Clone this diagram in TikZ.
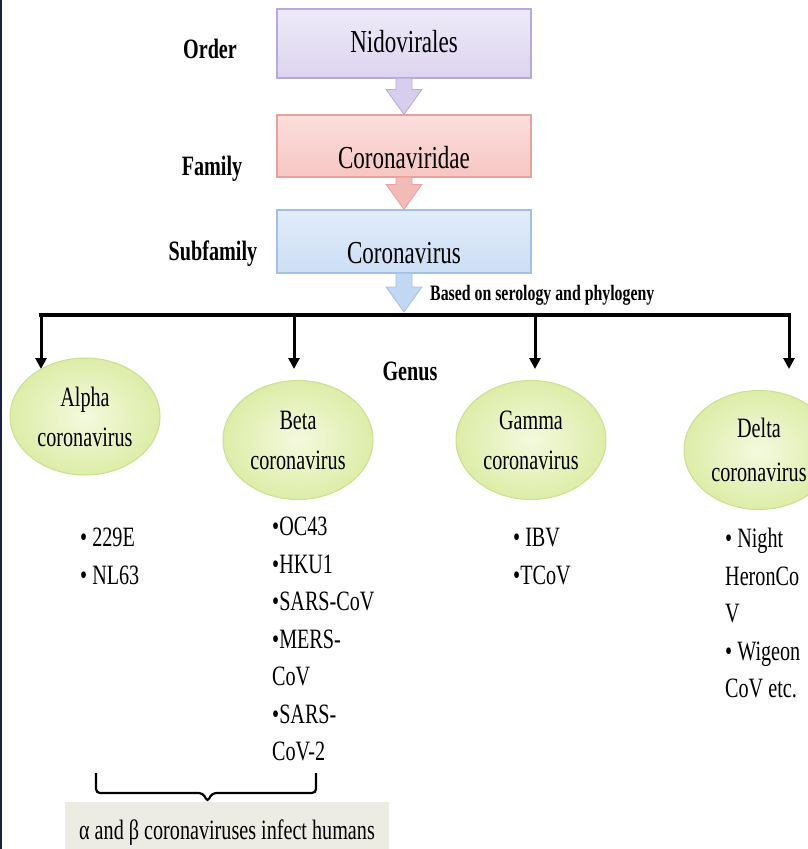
\documentclass[tikz,border=0pt]{standalone}
\usepackage{fontspec}
\setmainfont{Liberation Serif}[FakeStretch=0.72]
\usetikzlibrary{arrows.meta,calc,positioning,shapes.geometric}
\usepackage{xcolor}
\definecolor{nidotop}{HTML}{EEEAF8}
\definecolor{nidofill}{HTML}{DCD4EF}
\definecolor{nidoline}{HTML}{B7A9DA}
\definecolor{famtop}{HTML}{FBDEDC}
\definecolor{famfill}{HTML}{F6C6C2}
\definecolor{famline}{HTML}{E8A19C}
\definecolor{subtop}{HTML}{E2ECFA}
\definecolor{subfill}{HTML}{CCDEF5}
\definecolor{subline}{HTML}{A3C0E6}
\definecolor{genusin}{HTML}{F4F9DE}
\definecolor{genusfill}{HTML}{DDEDA8}
\definecolor{genusline}{HTML}{C9E08E}
\definecolor{notegrey}{HTML}{ECECE2}
\definecolor{edgenavy}{HTML}{1A1F4A}

% fat block arrow from one node to another
\newcommand{\fatarrow}[3]{%
  \filldraw[#3] let \p1=(#1), \p2=(#2) in
    (\x1-8pt,\y1) -- (\x1-8pt,\y2+25pt) -- (\x1-18pt,\y2+25pt) -- (\x1,\y2)
    -- (\x1+18pt,\y2+25pt) -- (\x1+8pt,\y2+25pt) -- (\x1+8pt,\y1);}

\tikzset{
  rankbox/.style={rectangle, line width=1.2pt, minimum width=254pt, inner ysep=0pt,
    text depth=0pt, font=\fontsize{32}{38}\selectfont},
  ranklabel/.style={anchor=base, inner sep=0pt, font=\fontsize{28}{34}\selectfont\bfseries},
  genus/.style={ellipse, draw=genusline, line width=1pt, inner color=genusin,
    outer color=genusfill, minimum width=150pt, minimum height=119pt, inner sep=0pt,
    align=center, font=\fontsize{28}{40}\selectfont},
  species/.style={anchor=north west, align=left, inner sep=0pt,
    font=\fontsize{28}{37.5}\selectfont},
  branch/.style={line width=3pt, -{Triangle[length=11pt,width=11pt]}},
}

\begin{document}
\begin{tikzpicture}[x=1pt,y=-1pt]
  \useasboundingbox (0,0) rectangle (807,849);
  % Left edge
  \fill[edgenavy] (0,0) rectangle (2,849);
  % Taxonomy ranks
  \node[rankbox, top color=nidotop, bottom color=nidofill, draw=nidoline,
    minimum height=69pt, text height=17pt] (nido) at (404,43.5) {Nidovirales};
  \node[rankbox, top color=famtop, bottom color=famfill, draw=famline,
    minimum height=62pt, text height=44pt] (corid) at (404,146) {Coronaviridae};
  \node[rankbox, top color=subtop, bottom color=subfill, draw=subline,
    minimum height=63pt, text height=43pt] (corv) at (404,241.5) {Coronavirus};
  \node[ranklabel] (order) at (210,58) {Order};
  \node[ranklabel] (family) at (212,175) {Family};
  \node[ranklabel] (subfamily) at (213,260) {Subfamily};
  % Block arrows
  \coordinate (split) at (404,312);
  \fatarrow{nido.south}{corid.north}{fill=nidofill!85!nidoline, draw=nidoline, line width=0.8pt}
  \fatarrow{corid.south}{corv.north}{fill=famfill!70!famline, draw=famline, line width=0.8pt}
  \fatarrow{corv.south}{split}{fill=subfill!75!subline, draw=subline, line width=0.8pt}
  \node[anchor=base west, inner sep=0pt, font=\fontsize{22}{26}\selectfont\bfseries]
    (basis) at (430,300) {Based on serology and phylogeny};
  % Genus bar
  \coordinate (bar-a) at (41,315);
  \coordinate (bar-b) at (294,315);
  \coordinate (bar-c) at (535,315);
  \coordinate (bar-d) at (789,315);
  \coordinate (tipline) at (0,369);
  \draw[line width=3.5pt, line cap=rect] (bar-a) -- (bar-d);
  \foreach \c in {a,b,c,d}
    \draw[branch] (bar-\c) -- (bar-\c |- tipline);
  \node[ranklabel] (genuslbl) at (410,380) {Genus};
  % Genera
  \node[genus, minimum height=117pt] (alpha) at (85,416.5) {Alpha\\coronavirus};
  \node[genus] (beta) at (298,440) {Beta\\coronavirus};
  \node[genus] (gamma) at (531,440) {Gamma\\coronavirus};
  \node[genus, font=\fontsize{28}{44}\selectfont] (delta) at (759,450) {Delta\\coronavirus};
  % Members
  \node[species] (alphalist) at (80,528) {• 229E\\• NL63};
  \node[species] (betalist) at (272,517) {•OC43\\•HKU1\\•SARS-CoV\\•MERS-\\CoV\\•SARS-\\CoV-2};
  \node[species] (gammalist) at (513,528) {• IBV\\•TCoV};
  \node[species] (deltalist) at (725,528) {• Night\\HeronCo\\V\\• Wigeon\\CoV etc.};
  % Human-infecting note
  \draw[line width=2.2pt, rounded corners=4pt] (96,773) -- (96,793) -- (203,793)
    -- (207.5,802) -- (212,793) -- (316,793) -- (316,773);
  \node[fill=notegrey, minimum width=324pt, minimum height=48pt, inner sep=0pt,
    text height=33pt, text depth=6pt, font=\fontsize{28}{34}\selectfont]
    (human) at (227,826) {α and β coronaviruses infect humans};
\end{tikzpicture}
\end{document}
